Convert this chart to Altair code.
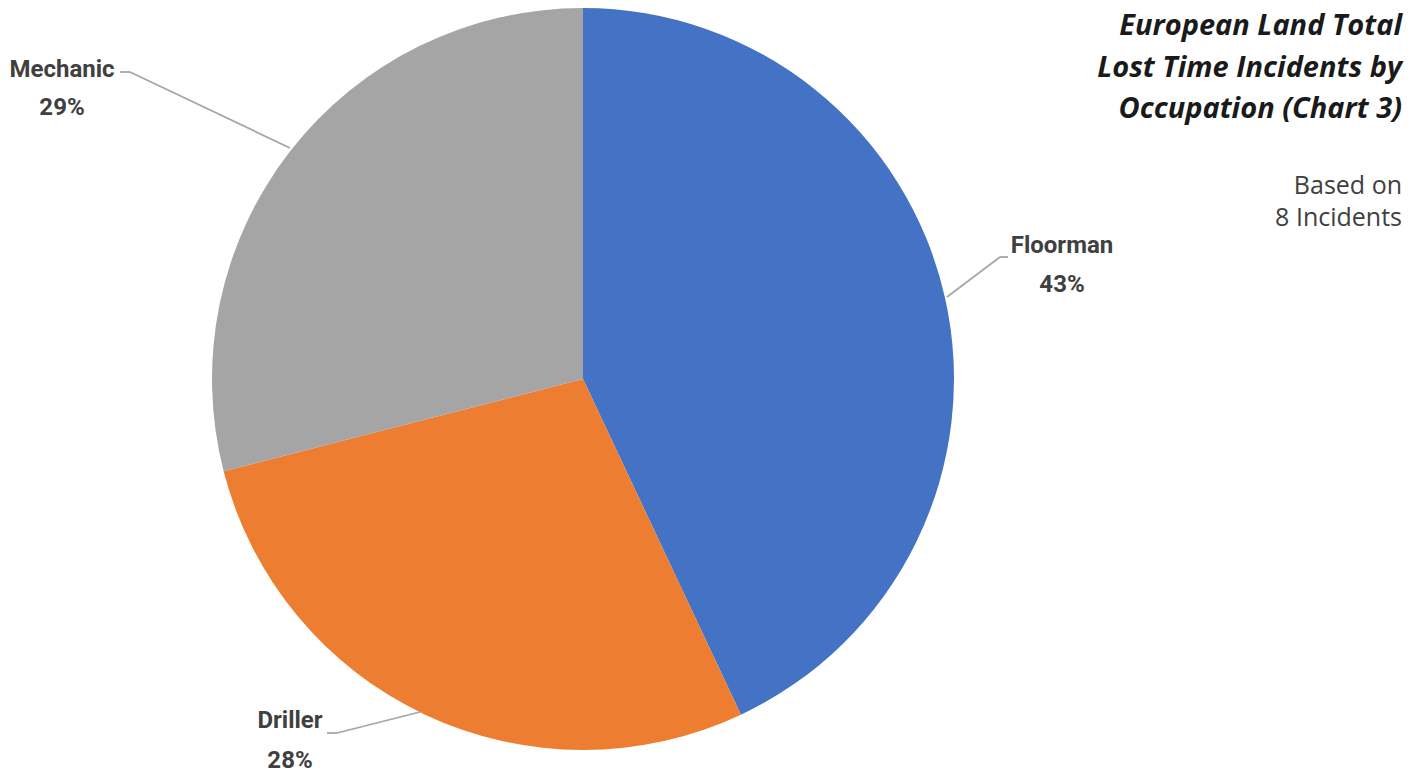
import altair as alt
import pandas as pd

categories = ["Floorman", "Driller", "Mechanic"]
values = [43, 28, 29]
colors = ["#4472C4", "#ED7D31", "#A5A5A5"]
title_lines = ["European Land Total", "Lost Time Incidents by", "Occupation (Chart 3)"]
subtitle_lines = ["Based on", "8 Incidents"]

df = pd.DataFrame({
    "category": categories,
    "value": values,
    "order": list(range(len(categories))),
})
df["pct"] = df["value"].astype(str) + "%"

W, H = 1407, 765
CX, CY, R = 575, 371, 371

base = alt.Chart(df)

pie = base.mark_arc(outerRadius=R).encode(
    theta=alt.Theta("value:Q", stack=True),
    order=alt.Order("order:Q"),
    color=alt.Color("category:N", scale=alt.Scale(domain=categories, range=colors), legend=None),
    x=alt.value(CX),
    y=alt.value(CY),
)

# label anchor (chart coords): x centre, first-line y, second-line y
label_pos = {"Floorman": (1054, 238, 277), "Mechanic": (54, 62, 100), "Driller": (282, 713, 753)}
label_font = "Roboto"

layers = [pie]

leaders = [
    [(939, 289), (992, 249), (1000, 249)],
    [(282, 140), (122, 64), (112, 64)],
    [(412, 704), (329, 725), (319, 725)],
]
for pts in leaders:
    for (x1, y1), (x2, y2) in zip(pts[:-1], pts[1:]):
        layers.append(
            alt.Chart(pd.DataFrame({"a": [0]})).mark_rule(color="#A6A6A6", strokeWidth=1.8).encode(
                x=alt.value(x1), y=alt.value(y1), x2=alt.value(x2), y2=alt.value(y2)
            )
        )

for cat in categories:
    x, y1, y2 = label_pos[cat]
    for field, y in (("category", y1), ("pct", y2)):
        layers.append(
            base.transform_filter(alt.datum.category == cat).mark_text(
                font=label_font, fontSize=24, fontWeight="bold", color="#404040",
                align="center", baseline="middle",
            ).encode(text=f"{field}:N", x=alt.value(x), y=alt.value(y))
        )

tdf = pd.DataFrame({"a": [0]})
for i, line in enumerate(title_lines):
    layers.append(
        alt.Chart(tdf).mark_text(
            text=line, font="Open Sans", fontSize=29, fontWeight="bold", fontStyle="italic",
            color="#1A1A1A", align="right", baseline="middle",
        ).encode(x=alt.value(1394), y=alt.value(18 + i * 41.5))
    )
for i, line in enumerate(subtitle_lines):
    layers.append(
        alt.Chart(tdf).mark_text(
            text=line, font="Open Sans", fontSize=25, color="#404040",
            align="right", baseline="middle",
        ).encode(x=alt.value(1394), y=alt.value(178 + i * 32))
    )

chart = alt.layer(*layers).properties(
    width=W, height=H, autosize=alt.AutoSizeParams(type="none"), padding=0,
    background="white",
).configure_view(stroke=None)

chart.save("out.html", embed_options={"renderer": "svg", "actions": False})
